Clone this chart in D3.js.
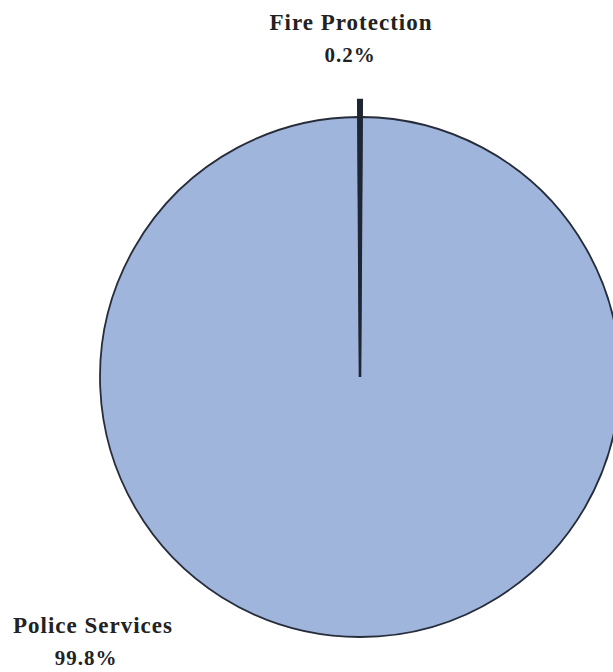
<!DOCTYPE html>
<html>
<head>
<meta charset="utf-8">
<script src="https://cdn.jsdelivr.net/npm/d3@7"></script>
<style>
html,body{margin:0;padding:0;background:#fff;overflow:hidden}
svg{display:block}
</style>
</head>
<body>
<svg id="chart" width="613" height="672"></svg>
<script>
const categories = ["Fire Protection", "Police Services"];
const values = [0.2, 99.8];
const valueLabels = ["0.2%", "99.8%"];

const svg = d3.select("#chart");
const cx = 360, cy = 377, r = 260;
const g = svg.append("g").attr("transform", `translate(${cx},${cy})`);

const half = Math.PI * 2 * values[0] / 100 / 2;
const pie = d3.pie().sort(null).value(d => d.v)
  .startAngle(-half).endAngle(2 * Math.PI - half);
const data = pie(categories.map((c, i) => ({c, v: values[i]})));

const arcMain = d3.arc().innerRadius(0).outerRadius(r);
const arcOut = d3.arc().innerRadius(0).outerRadius(r + 17);

// Police slice
g.append("path")
  .attr("d", arcMain(data[1]))
  .attr("fill", "#a0b5db")
  .attr("stroke", "#262c3a")
  .attr("stroke-width", 1.8);
// Fire slice (thin sliver, extended)
g.append("path")
  .attr("d", arcOut(data[0]))
  .attr("fill", "#1f2633")
  .attr("stroke", "#1f2633")
  .attr("stroke-width", 2.6)
  .attr("stroke-linejoin", "miter");

const tStyle = sel => sel
  .attr("font-family", "'Liberation Serif','Times New Roman',serif")
  .attr("font-weight", "bold")
  .attr("fill", "#222")
  .attr("text-anchor", "middle");

svg.append("text").call(tStyle).attr("x", 351).attr("y", 30)
  .attr("font-size", 23).attr("letter-spacing", 1).text(categories[0]);
svg.append("text").call(tStyle).attr("x", 350).attr("y", 62)
  .attr("font-size", 21).attr("letter-spacing", 1).text(valueLabels[0]);
svg.append("text").call(tStyle).attr("x", 93).attr("y", 633)
  .attr("font-size", 23).attr("letter-spacing", 1).text(categories[1]);
svg.append("text").call(tStyle).attr("x", 86).attr("y", 665)
  .attr("font-size", 21).attr("letter-spacing", 1).text(valueLabels[1]);
</script>
</body>
</html>
